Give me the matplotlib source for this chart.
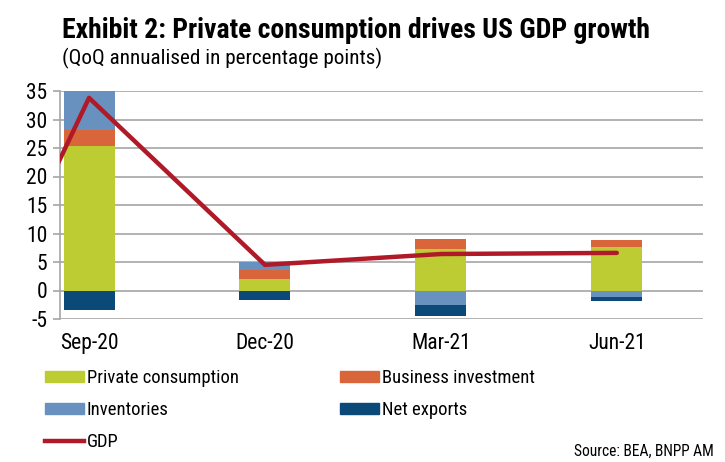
import matplotlib
matplotlib.use("Agg")
import matplotlib.pyplot as plt
import numpy as np
from matplotlib.patches import Patch
from matplotlib.lines import Line2D

plt.rcParams['font.family'] = ['Roboto Condensed', 'Liberation Sans', 'DejaVu Sans']
plt.rcParams['axes.unicode_minus'] = False

categories = ["Sep-20", "Dec-20", "Mar-21", "Jun-21"]
private_consumption = [25.4, 2.1, 7.3, 7.6]
business_investment = [2.7, 1.5, 1.8, 1.2]
inventories = [6.9, 1.4, -2.6, -1.1]
net_exports = [-3.4, -1.7, -1.8, -0.7]
gdp = [33.8, 4.5, 6.4, 6.6]
gdp_prev_label = "Jun-20"
gdp_prev = -31.4

colors = {
    "Private consumption": "#BCCC32",
    "Business investment": "#D9663A",
    "Inventories": "#6891BF",
    "Net exports": "#0B4A78",
}
gdp_color = "#B01A28"

fig = plt.figure(figsize=(7.25, 4.62), dpi=100)
ax = fig.add_axes([60/725, 1-319/462, 643/725, 228/462])

x = np.arange(len(categories))
width = 0.29
pos_bottom = np.zeros(len(categories))
neg_bottom = np.zeros(len(categories))
series = [("Private consumption", private_consumption),
          ("Business investment", business_investment),
          ("Inventories", inventories),
          ("Net exports", net_exports)]
for name, vals in series:
    vals = np.array(vals, dtype=float)
    bottoms = np.where(vals >= 0, pos_bottom, neg_bottom)
    ax.bar(x, vals, width, bottom=bottoms, color=colors[name], zorder=3, linewidth=0)
    pos_bottom = pos_bottom + np.where(vals >= 0, vals, 0)
    neg_bottom = neg_bottom + np.where(vals < 0, vals, 0)

gx = np.concatenate([[-1], x])
gy = np.concatenate([[gdp_prev], gdp])
ax.plot(gx, gy, color=gdp_color, lw=3.2, zorder=4, solid_capstyle='round')

ax.set_xlim(-0.165, 3.49)
ax.set_ylim(-5, 35)
ax.set_yticks(np.arange(-5, 36, 5))
ax.set_xticks(x)
ax.set_xticklabels(categories)
ax.grid(axis='y', color='#A6A6A6', lw=1.2, zorder=0)
for s in ['top', 'right', 'bottom']:
    ax.spines[s].set_visible(False)
ax.spines['left'].set_color('#A6A6A6')
ax.spines['left'].set_linewidth(1.2)
ax.tick_params(axis='y', length=5, color='#A6A6A6', width=1.2, labelsize=15.5, pad=4)
ax.tick_params(axis='x', length=0, labelsize=15.5, pad=10)

fig.text(62/725, 1-38/462, "Exhibit 2: Private consumption drives US GDP growth",
         fontsize=20, fontweight='bold', ha='left', va='baseline')
fig.text(62/725, 1-58/462, "(QoQ annualised in percentage points)",
         fontsize=15.2, ha='left', va='center')

handles = [Patch(color=colors["Private consumption"]),
           Patch(color=colors["Business investment"]),
           Patch(color=colors["Inventories"]),
           Patch(color=colors["Net exports"]),
           Line2D([0], [0], color=gdp_color, lw=3.2)]
labels = ["Private consumption", "Business investment", "Inventories", "Net exports", "GDP"]
leg_items = [(0, 0), (1, 0), (0, 1), (1, 1), (0, 2)]
col_x = [45/725, 340/725]
row_y = [1-378/462, 1-410/462, 1-442/462]
for (c, r), h, lab in zip(leg_items, handles, labels):
    fig.legend([h], [lab], loc='center left',
               bbox_to_anchor=(col_x[c], row_y[r]), frameon=False,
               fontsize=13.4, handlelength=2.1, handleheight=0.55,
               handletextpad=0.15, borderpad=0, borderaxespad=0)

fig.text(714/725, 1-451/462, "Source: BEA, BNPP AM", fontsize=11.2,
         ha='right', va='center')

fig.savefig("out.png", dpi=100)
